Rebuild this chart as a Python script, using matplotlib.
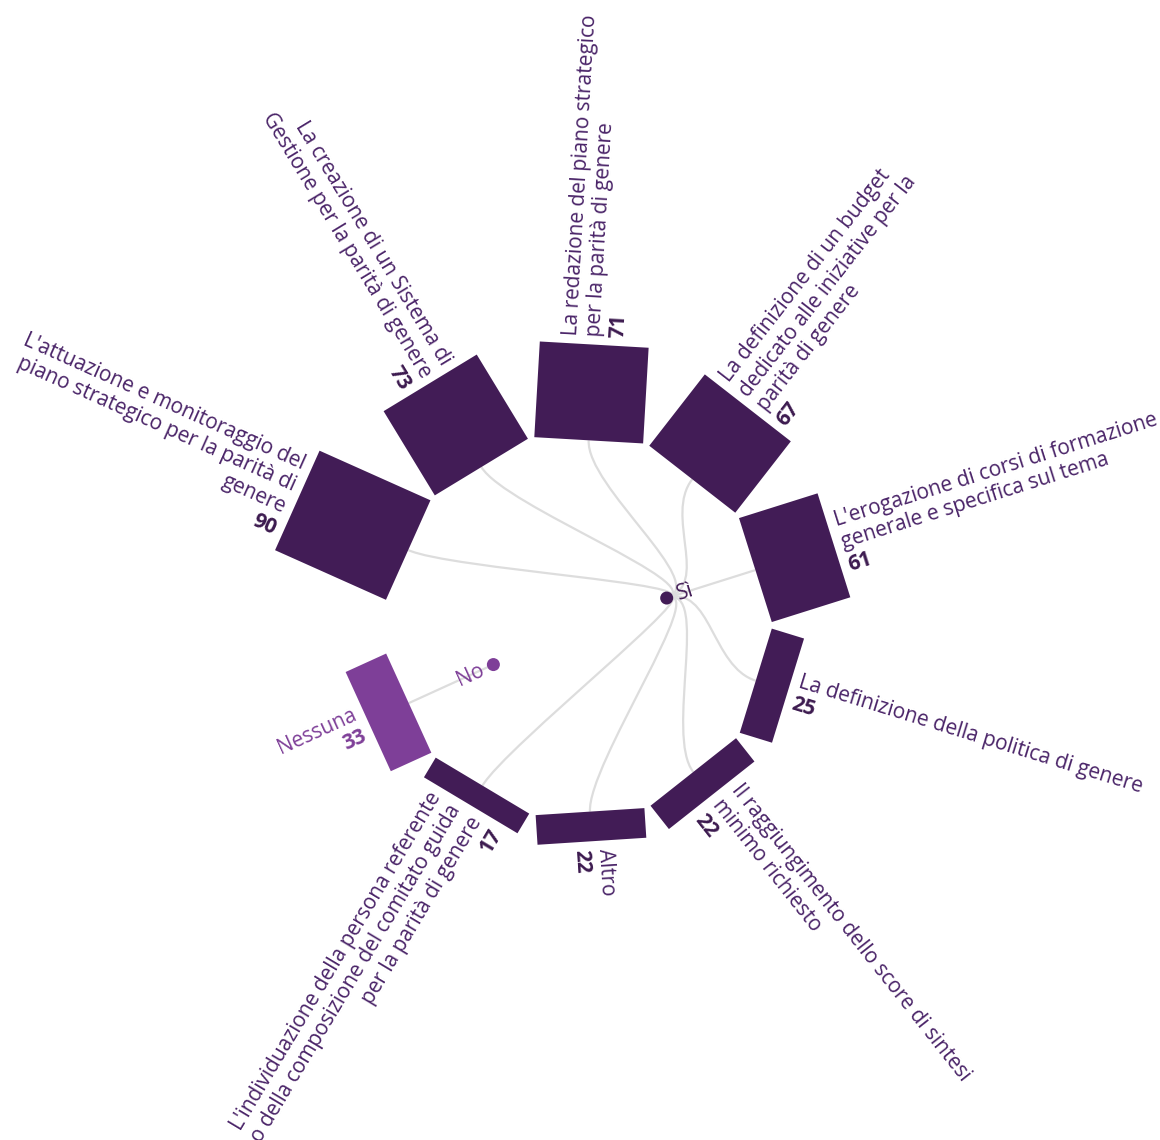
import numpy as np
import matplotlib.pyplot as plt
from matplotlib.patches import Polygon, PathPatch, Circle
from matplotlib.path import Path

plt.rcParams["font.family"] = ["Open Sans", "DejaVu Sans"]

# dati
labels = [
    "L'attuazione e monitoraggio del\npiano strategico per la parità di\ngenere",
    "La creazione di un Sistema di\nGestione per la parità di genere",
    "La redazione del piano strategico\nper la parità di genere",
    "La definizione di un budget\ndedicato alle iniziative per la\nparità di genere",
    "L'erogazione di corsi di formazione\ngenerale e specifica sul tema",
    "La definizione della politica di genere",
    "Il raggiungimento dello score di sintesi\nminimo richiesto",
    "Altro",
    "L'individuazione della persona referente\no della composizione del comitato guida\nper la parità di genere",
    "Nessuna",
]
values = [90, 73, 71, 67, 61, 25, 22, 22, 17, 33]
answers = ["Sì", "Sì", "Sì", "Sì", "Sì", "Sì", "Sì", "Sì", "Sì", "No"]
nodes = ["Sì", "No"]

DARK = "#421c56"
LIGHT = "#7e3f98"
TEXT = "#4a2468"
LINK = "#dddddd"

CX, CY = 578, 626
R0 = 186           # raggio interno delle barre
R_NODE = 93        # raggio dei nodi Sì / No
BAR_W = 109
SCALE = 1.35       # px per unità
START, STEP = 294.1, 34.6
GAP = 8
LS = 23.5
FS = 15


def polar(theta, r):
    t = np.radians(theta)
    return CX + r * np.sin(t), CY - r * np.cos(t)


angles = [(START + k * STEP) % 360 for k in range(len(values))]
node_angle = {}
for node in nodes:
    idx = [i for i, a in enumerate(answers) if a == node]
    raw = [START + i * STEP for i in idx]
    node_angle[node] = np.mean(raw) % 360

fig = plt.figure(figsize=(11.6, 11.4), dpi=100)
ax = fig.add_axes([0, 0, 1, 1])
ax.set_xlim(0, 1160)
ax.set_ylim(1140, 0)
ax.axis("off")

# collegamenti radiali
for theta, ans in zip(angles, answers):
    a_node = node_angle[ans]
    if abs(a_node - theta) > 180:
        a_node += 360 if theta > a_node else -360
    rm = (R0 + R_NODE) / 2
    pts = [polar(theta, R0), polar(theta, rm), polar(a_node, rm), polar(a_node, R_NODE)]
    path = Path(pts, [Path.MOVETO, Path.CURVE4, Path.CURVE4, Path.CURVE4])
    ax.add_patch(PathPatch(path, fc="none", ec=LINK, lw=1.6, zorder=1))

# barre
for theta, val, ans in zip(angles, values, answers):
    t = np.radians(theta)
    tan = np.array([np.cos(t), np.sin(t)])
    nrm = np.array([np.sin(t), -np.cos(t)])
    mid = np.array(polar(theta, R0))
    h = val * SCALE
    corners = [
        mid - BAR_W / 2 * tan,
        mid + BAR_W / 2 * tan,
        mid + BAR_W / 2 * tan + h * nrm,
        mid - BAR_W / 2 * tan + h * nrm,
    ]
    color = DARK if ans == "Sì" else LIGHT
    ax.add_patch(Polygon(corners, closed=True, fc=color, ec="none", zorder=2))

# etichette
for theta, val, ans, lab in zip(angles, values, answers, labels):
    lines = lab.split("\n") + [str(val)]
    n = len(lines)
    if theta <= 180:
        rot = 90 - theta
        ha = "left"
    else:
        rot = 270 - theta
        ha = "right"
    ax0, ay0 = polar(theta, R0 + val * SCALE + GAP)
    r = np.radians(rot)
    down = np.array([np.sin(r), np.cos(r)])
    txt_col = TEXT if ans == "Sì" else LIGHT
    num_col = "#3c1a4f" if ans == "Sì" else LIGHT
    for i, line in enumerate(lines):
        off = (i - (n - 1) / 2) * LS
        x, y = ax0 + off * down[0], ay0 + off * down[1]
        last = i == n - 1
        ax.text(x, y, line, rotation=rot, rotation_mode="anchor", ha=ha, va="center",
                fontsize=FS, color=num_col if last else txt_col,
                fontweight="bold" if last else "normal", zorder=3)

# nodi
for node in nodes:
    a = node_angle[node]
    x, y = polar(a, R_NODE)
    color = DARK if node == "Sì" else LIGHT
    ax.add_patch(Circle((x, y), 6.5, fc=color, ec="none", zorder=3))
    lx, ly = polar(a, R_NODE + 11)
    if a <= 180:
        rot, ha = 90 - a, "left"
    else:
        rot, ha = 270 - a, "right"
    ax.text(lx, ly, node, rotation=rot, rotation_mode="anchor", ha=ha, va="center",
            fontsize=FS, color=color, zorder=3)

fig.savefig("out.png", dpi=100, facecolor="white")
